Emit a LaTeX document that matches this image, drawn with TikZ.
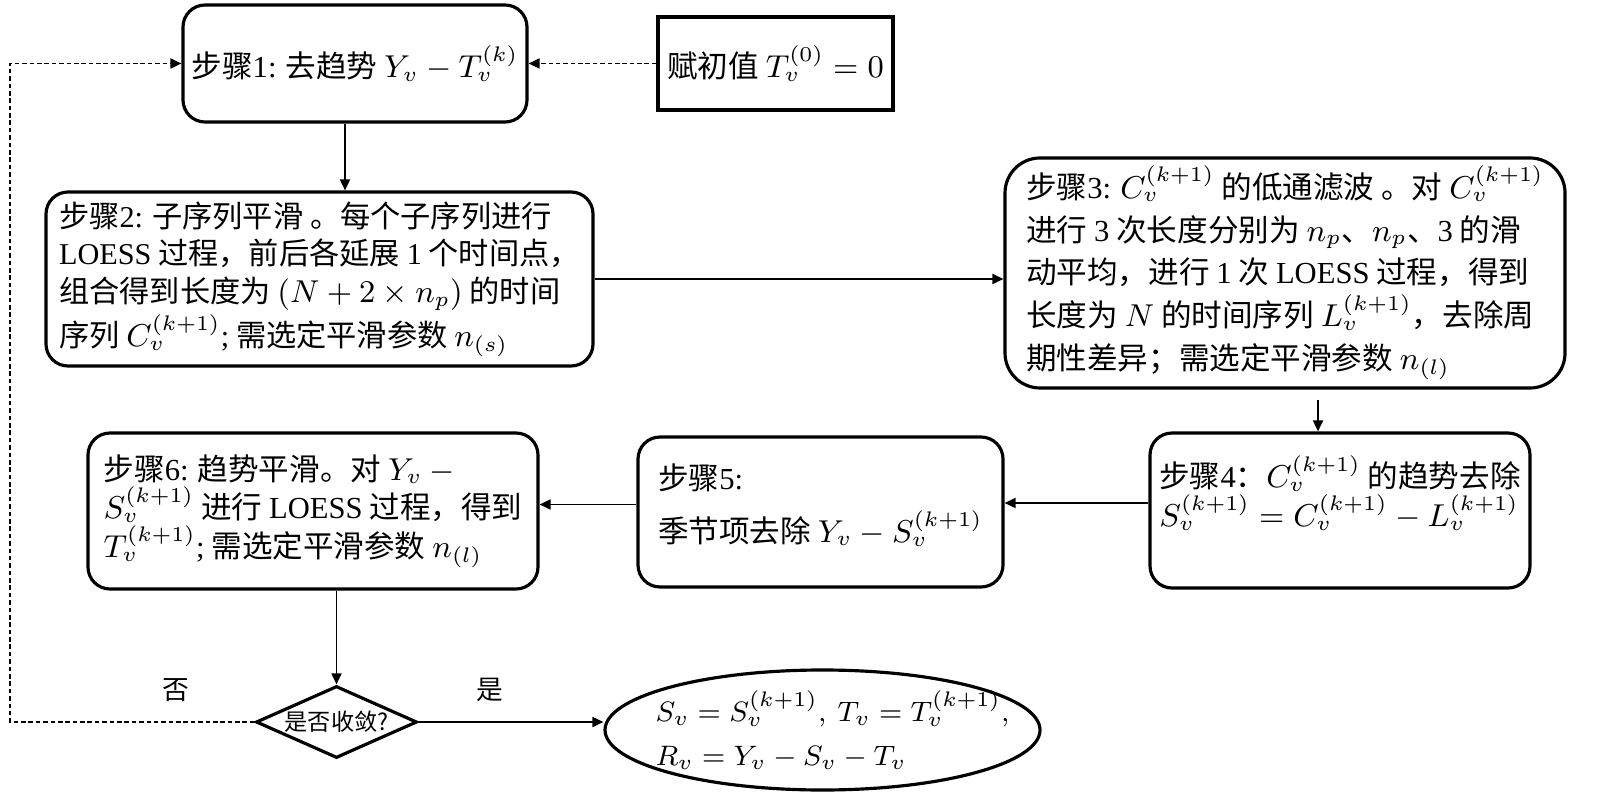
\documentclass[tikz,border=0pt]{standalone}
\usepackage{fontspec}
\setmainfont{Noto Sans CJK SC}
\newfontfamily\latfont{Liberation Serif}
\newcommand\lat[1]{{\latfont #1}}
\usetikzlibrary{shapes.geometric,arrows.meta}

\begin{document}
\begin{tikzpicture}[
    font=\fontsize{8.7}{11}\selectfont,
    stepbox/.style={draw, line width=0.9pt, rounded corners=0.22cm, align=left, inner sep=0pt},
    initbox/.style={draw, line width=0.9pt, inner sep=0pt},
    decide/.style={draw, diamond, line width=0.9pt, inner sep=0pt, minimum width=1.61cm, minimum height=0.72cm},
    result/.style={draw, ellipse, line width=0.9pt, inner sep=0pt, minimum width=4.35cm, minimum height=1.2cm},
    flow/.style={-{Triangle[length=1.1mm,width=1mm]}, line width=0.5pt},
    back/.style={flow, dash pattern=on 1.3pt off 0.8pt}
  ]
  \useasboundingbox (0,0) rectangle (16,8.11);

  % upper row
  \node[stepbox, minimum width=3.44cm, minimum height=1.17cm] (s1) at (3.55,7.475)
    {步骤\lat{1:} 去趋势 $Y_v-T_v^{(k)}$};
  \node[initbox, minimum width=2.35cm, minimum height=0.93cm] (init) at (7.755,7.475)
    {赋初值 $T_v^{(0)}=0$};

  % middle row
  \node[stepbox, font=\fontsize{8.6}{10.8}\selectfont, minimum width=5.47cm, minimum height=1.74cm] (s2) at (3.195,5.32)
    {步骤\lat{2:} 子序列平滑 。每个子序列进行\\
     \lat{LOESS} 过程，前后各延展 \lat{1} 个时间点，\\
     组合得到长度为 $(N+2\times n_p)$ 的时间\\
     序列 $C_v^{(k+1)}$\lat{;} 需选定平滑参数 $n_{(s)}$};
  \node[stepbox, rounded corners=0.35cm, font=\fontsize{8.7}{12.2}\selectfont, minimum width=5.6cm, minimum height=2.3cm] (s3) at (12.85,5.38)
    {步骤\lat{3:} $C_v^{(k+1)}$ 的低通滤波 。对 $C_v^{(k+1)}$\\
     进行 \lat{3} 次长度分别为 $n_p$、$n_p$、\lat{3} 的滑\\
     动平均，进行 \lat{1} 次 \lat{LOESS} 过程，得到\\
     长度为 $N$ 的时间序列 $L_v^{(k+1)}$，去除周\\
     期性差异；需选定平滑参数 $n_{(l)}$};

  % lower row
  \node[stepbox, minimum width=3.8cm, minimum height=1.55cm] (s4) at (13.4,3.005)
    {步骤\lat{4}：$C_v^{(k+1)}$ 的趋势去除\\
     $S_v^{(k+1)}=C_v^{(k+1)}-L_v^{(k+1)}$\\ \mbox{}};
  \node[stepbox, minimum width=3.65cm, minimum height=1.5cm] (s5) at (8.205,2.99)
    {步骤\lat{5:}\\[4pt]
     季节项去除 $Y_v-S_v^{(k+1)}$\\[-6pt] \mbox{}};
  \node[stepbox, minimum width=4.5cm, minimum height=1.56cm] (s6) at (3.13,3.0)
    {步骤\lat{6:} 趋势平滑。对 $Y_v-{}$\\
     $S_v^{(k+1)}$ 进行 \lat{LOESS} 过程，得到\\
     $T_v^{(k+1)}$\lat{;} 需选定平滑参数 $n_{(l)}$};

  % decision and result
  \node[decide, label={[font=\fontsize{6.6}{8}\selectfont]center:是否收敛?}] (dia) at (3.365,0.89) {};
  \node[result, label={[align=left, xshift=1mm, font=\fontsize{8}{12.5}\selectfont]center:{$S_v=S_v^{(k+1)},\ T_v=T_v^{(k+1)},$\\ $R_v=Y_v-S_v-T_v$}}] (res) at (8.225,0.81) {};
  \node[font=\fontsize{7.6}{9}\selectfont] (no) at (1.76,1.21) {否};
  \node[font=\fontsize{7.6}{9}\selectfont] (yes) at (4.9,1.21) {是};
  \coordinate (turn) at (0.1,0.89);

  \begin{scope}[flow]
    \draw ([xshift=-1mm]s1.south) -- ([xshift=-1mm]s1.south |- s2.north);
    \draw (s2.east) -- (s2.east -| s3.west);
    \draw ([xshift=3.3mm,yshift=-1mm]s3.south) -- ([xshift=3.3mm]s3.south |- s4.north);
    \draw ([yshift=0.75mm]s4.west) -- ([yshift=0.75mm]s4.west -| s5.east);
    \draw ([yshift=0.75mm]s5.west) -- ([yshift=0.75mm]s5.west -| s6.east);
    \draw (s6.south -| dia.north) -- (dia.north);
    \draw (dia.east) -- (dia.east -| res.west);
  \end{scope}
  \draw[back] (init.west) -- (s1.east);
  \draw[back] (dia.west) -- (turn) |- (s1.west);
\end{tikzpicture}
\end{document}
